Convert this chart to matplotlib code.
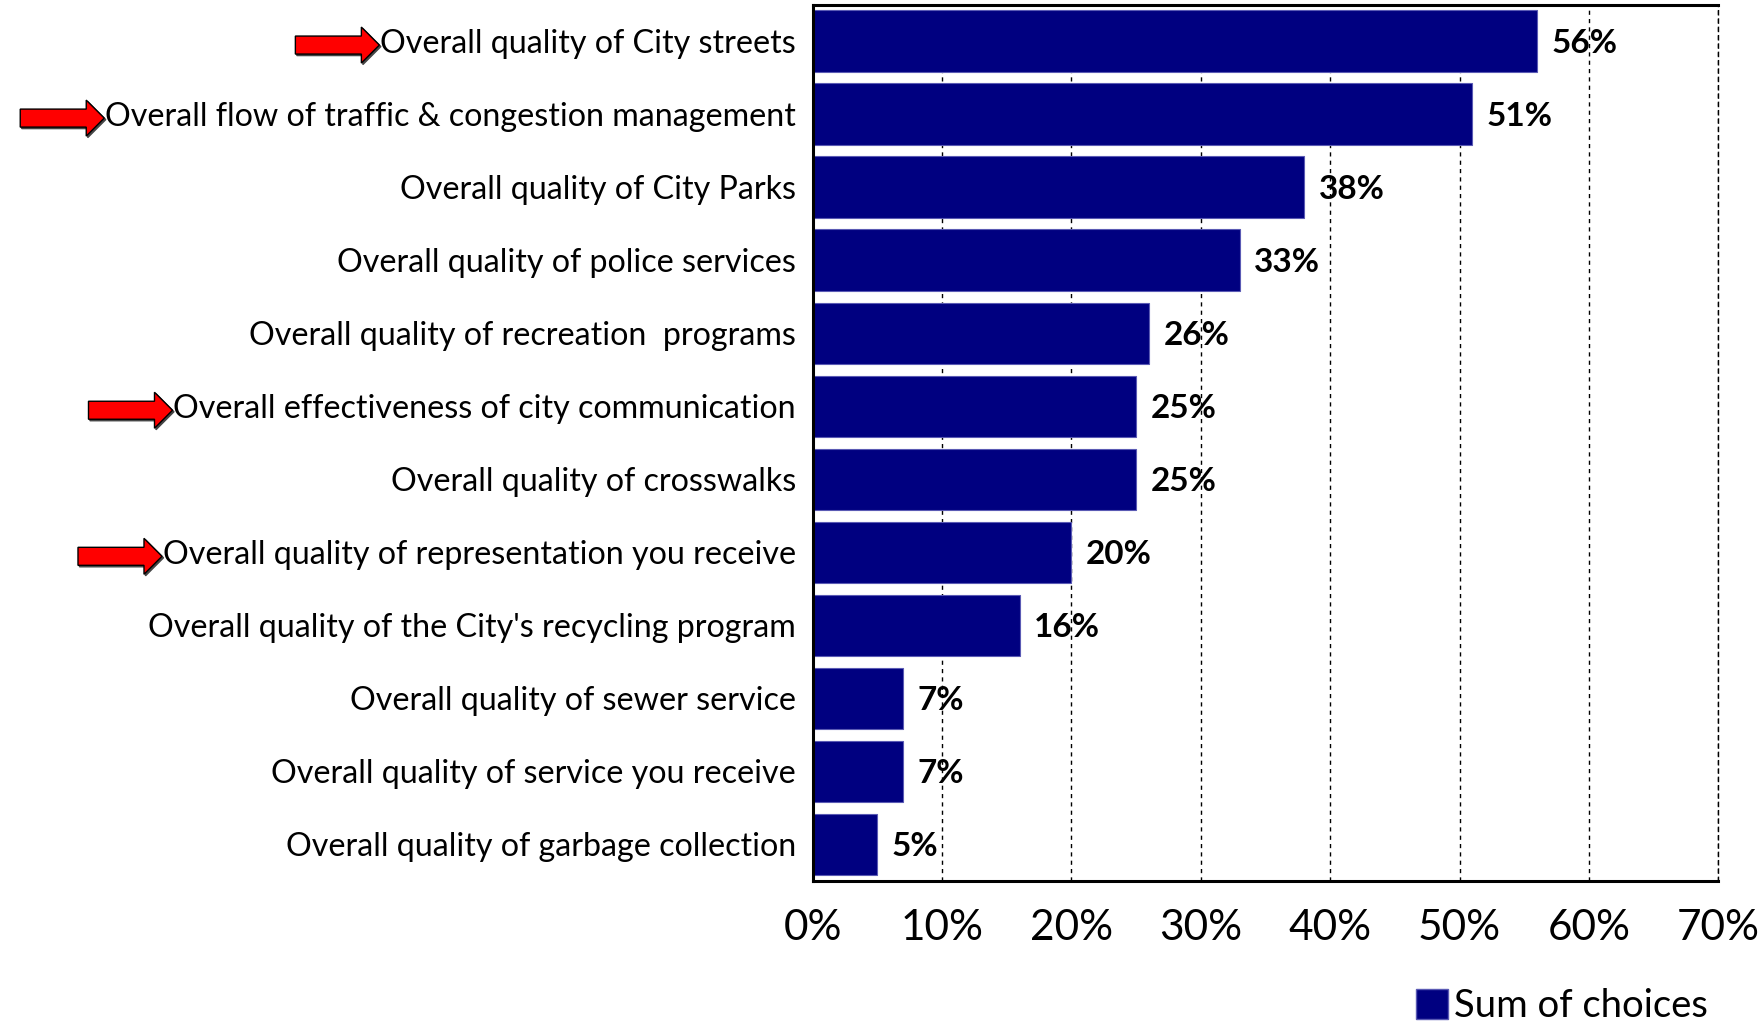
import matplotlib.pyplot as plt
from matplotlib.patches import FancyArrow, Patch

categories = [
    "Overall quality of City streets",
    "Overall flow of traffic & congestion management",
    "Overall quality of City Parks",
    "Overall quality of police services",
    "Overall quality of recreation  programs",
    "Overall effectiveness of city communication",
    "Overall quality of crosswalks",
    "Overall quality of representation you receive",
    "Overall quality of the City's recycling program",
    "Overall quality of sewer service",
    "Overall quality of service you receive",
    "Overall quality of garbage collection",
]
values = [56, 51, 38, 33, 26, 25, 25, 20, 16, 7, 7, 5]
flagged = [0, 1, 5, 7]
x_ticks = [0, 10, 20, 30, 40, 50, 60, 70]
x_tick_labels = ["0%", "10%", "20%", "30%", "40%", "50%", "60%", "70%"]
legend_label = "Sum of choices"

NAVY = "#000080"

plt.rcParams['font.family'] = ['Lato', 'DejaVu Sans']

fig = plt.figure(figsize=(17.65, 10.34), dpi=100)
ax = fig.add_axes([0.4605, 0.148, 0.513, 0.8476])

y = list(range(len(categories)))
ax.barh(y, values, height=0.84, color=NAVY, edgecolor="#5a5ab4", linewidth=0.8, zorder=2)

for yi, v in zip(y, values):
    ax.text(v + 1.1, yi, f"{v}%", va="center_baseline", ha="left", fontsize=24,
            fontweight="bold", color="black", zorder=3)

ax.set_xlim(0, 70)
ax.set_ylim(len(categories) - 0.5, -0.5)
ax.set_yticks(y)
ax.set_yticklabels(categories, fontsize=23.2)
ax.set_xticks(x_ticks)
ax.set_xticklabels(x_tick_labels, fontsize=30.5)
ax.tick_params(axis="y", length=0, pad=12)
ax.tick_params(axis="x", length=0, pad=20)

ax.grid(axis="x", color="black", linestyle=(0, (3, 3)), linewidth=1.0, zorder=1)
ax.set_axisbelow(True)

for side in ["left", "bottom", "top"]:
    ax.spines[side].set_linewidth(2.2)
    ax.spines[side].set_color("black")
ax.spines["right"].set_linestyle((0, (3, 3)))
ax.spines["right"].set_linewidth(1.0)

leg = fig.legend(handles=[Patch(facecolor=NAVY, edgecolor="#5a5ab4")], labels=[legend_label],
                 loc="lower right", bbox_to_anchor=(0.987, -0.024), frameon=False,
                 fontsize=27.5, handlelength=0.85, handleheight=0.85, handletextpad=0.15)

# red arrows pointing at the flagged categories
fig.canvas.draw()
renderer = fig.canvas.get_renderer()
labels = ax.get_yticklabels()
for i in flagged:
    bb = labels[i].get_window_extent(renderer)
    x_end = bb.x0 - 1
    yc = (bb.y0 + bb.y1) / 2 - 1
    length = 84
    shadow = FancyArrow(x_end - length + 1.5, yc - 1.5, length, 0, width=18, head_width=36,
                        head_length=18, length_includes_head=True, transform=None,
                        color="#444444", zorder=4)
    arrow = FancyArrow(x_end - length, yc, length, 0, width=18, head_width=36,
                       head_length=18, length_includes_head=True, transform=None,
                       facecolor="#ff0000", edgecolor="black", linewidth=1.0, zorder=5)
    fig.patches.extend([shadow, arrow])

fig.savefig("out.png", dpi=100)
